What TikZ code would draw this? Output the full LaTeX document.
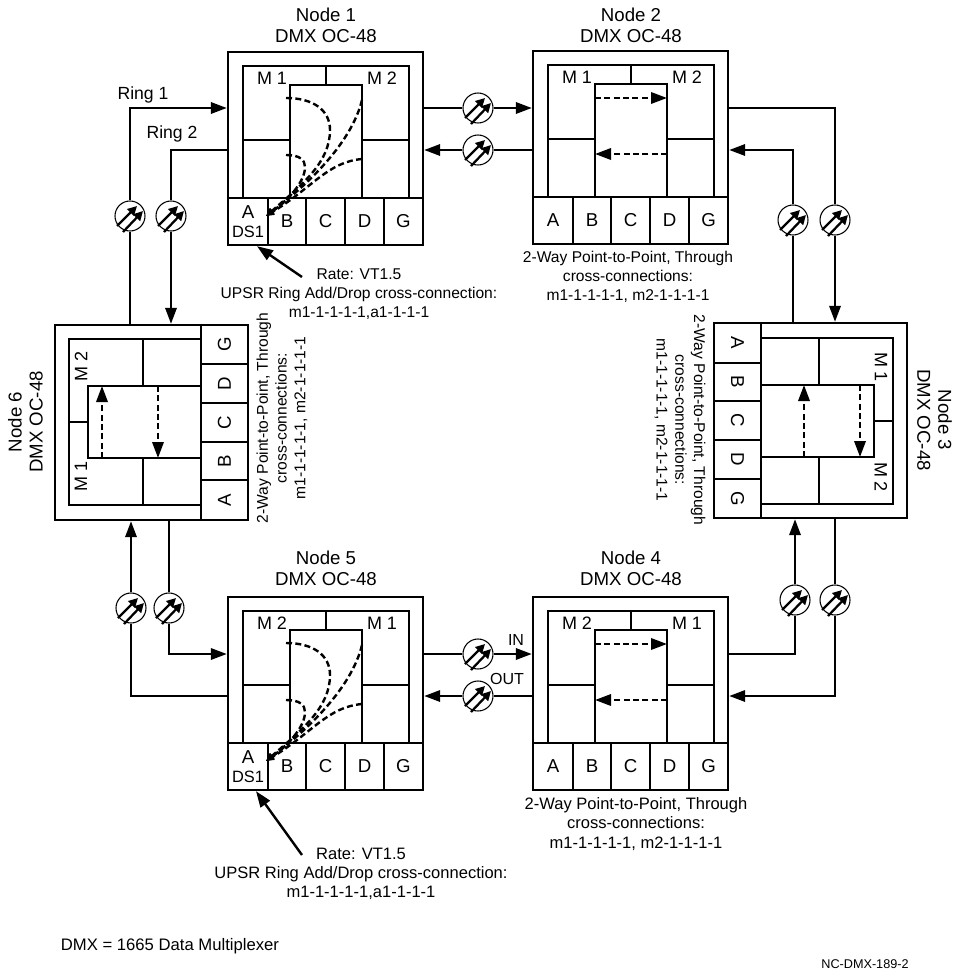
\documentclass[tikz,border=0pt]{standalone}
\usepackage{fontspec}
\setmainfont{Liberation Sans}
\usetikzlibrary{arrows.meta, calc, positioning}

\newcommand{\sizedfont}[2]{\fontsize{#1}{#2}\selectfont}
\tikzset{
  outerbox/.style={draw, line width=1.8pt, inner sep=0pt, minimum width=146.25pt, minimum height=144.75pt},
  part/.style={line width=1.8pt},
  card/.style={draw, line width=1.8pt, inner sep=0pt, minimum height=35.25pt, align=center, font=\sizedfont{14}{14.5}},
  mlabel/.style={inner sep=0pt, font=\sizedfont{13.5}{15}},
  title/.style={inner sep=0pt, align=center, font=\sizedfont{14}{15.75}},
  note/.style={inner sep=0pt, align=center, font=\sizedfont{11.7}{14}},
  bignote/.style={inner sep=0pt, align=center, font=\sizedfont{12.4}{14.4}},
  ringlabel/.style={inner sep=0pt, font=\sizedfont{13.2}{15}},
  portlabel/.style={inner sep=0pt, font=\sizedfont{12}{14}},
  filter/.style={draw, circle, fill=white, line width=0.8pt, inner sep=0pt, minimum size=22.5pt},
  filterarrow/.style={line width=1.7pt, -{Triangle[length=7pt,width=7pt]}},
  ring/.style={line width=1.8pt},
  ringarrow/.style={line width=1.8pt, -{Triangle[length=12pt,width=8.5pt]}},
  xconn/.style={line width=1.8pt, dash pattern=on 4.5pt off 2.5pt, -{Triangle[length=12pt,width=8.5pt]}},
  dropconn/.style={line width=1.8pt, dash pattern=on 4.5pt off 2.5pt, -{Triangle[length=6pt,width=5pt]}},
}

\newcommand{\throughxc}[1]{
  \coordinate (#1pa) at (62,47);
  \coordinate (#1pb) at (134,47);
  \coordinate (#1pc) at (62,103);
  \coordinate (#1pd) at (134,103);
  \draw[xconn] (#1pa) -- (#1pb);
  \draw[xconn] (#1pd) -- (#1pc);
}
\newcommand{\adddropxc}[1]{
  \coordinate (#1tip) at (38,164);
  \coordinate (#1ua) at (58,46);
  \coordinate (#1ub) at (58,103);
  \coordinate (#1uc) at (134,48);
  \coordinate (#1ud) at (134,107);
  \draw[dropconn] (#1ua) .. controls (85,46) and (102,58) .. (102,78) .. controls (102,110) and (75,132) .. (#1tip);
  \draw[dropconn] (#1ub) .. controls (72,103) and (77,108) .. (77,115) .. controls (77,130) and (60,148) .. (#1tip);
  \draw[dropconn] (#1uc) .. controls (125,85) and (90,125) .. (#1tip);
  \draw[dropconn] (#1ud) .. controls (100,110) and (85,135) .. (#1tip);
}
% name, x, y, angle, left label, right label, text of card A, cross-connection
\newcommand{\dmxnode}[8]{
  \begin{scope}[shift={(#2,#3)}, rotate=#4, transform shape]
    \node[outerbox] (#1) at (97.5,96.5) {};
    \draw[part] (15,146) |- (181,14) -- (181,146);
    \draw[part] (62,146) |- (134,33) -- (134,146);
    \draw[part] (98,14) -- (98,33);
    \draw[part] (15,88) -- (62,88);
    \draw[part] (134,88) -- (181,88);
    \node[mlabel] (#1ml) at (44,26) {#5};
    \node[mlabel] (#1mr) at (154,26) {#6};
    \node[card, minimum width=30pt] (#1A) at (20,169.5) {#7};
    \foreach \lett/\xmid/\wid in {B/59/38, C/97.5/39, D/136.5/39, G/175.5/39}{
      \node[card, minimum width=\wid*0.75pt] (#1\lett) at (\xmid,169.5) {\lett};
    };
    #8{#1}
  \end{scope}
}

\begin{document}
\begin{tikzpicture}[x=0.75pt, y=-0.75pt]
    \useasboundingbox (0,0) rectangle (961,977);

    \dmxnode{n1}{228}{52}{0}{M 1}{M 2}{A\\\sizedfont{12.3}{14.5}DS1}{\adddropxc}
    \dmxnode{n2}{533}{51}{0}{M 1}{M 2}{A}{\throughxc}
    \dmxnode{n3}{907}{323}{-90}{M 1}{M 2}{A}{\throughxc}
    \dmxnode{n4}{533}{597}{0}{M 2}{M 1}{A}{\throughxc}
    \dmxnode{n5}{228}{597}{0}{M 2}{M 1}{A\\\sizedfont{12.3}{14.5}DS1}{\adddropxc}
    \dmxnode{n6}{55}{520}{90}{M 1}{M 2}{A}{\throughxc}

    \foreach \name/\xpos/\ypos in {f12a/478/108, f12b/478/150, f23a/793/220, f23b/835/220,
      f34a/795/600, f34b/835/600, f45a/478/654, f45b/478/696,
      f56a/131/608, f56b/169/608, f61a/130/216, f61b/171/216}{
      \node[filter] (\name) at (\xpos,\ypos) {};
      \draw[filterarrow] ([shift={(-13,10)}]\name.center) -- ([shift={(7,-10)}]\name.center);
      \draw[filterarrow] ([shift={(-7,16)}]\name.center) -- ([shift={(13,-5)}]\name.center);
    };

    \draw[ring] (n1.east |- f12a) -- (f12a);
    \draw[ringarrow] (f12a) -- (f12a -| n2.west);
    \draw[ring] (n2.west |- f12b) -- (f12b);
    \draw[ringarrow] (f12b) -- (f12b -| n1.east);

    \draw[ring] (n2.east |- f12a) -| (f23b);
    \draw[ringarrow] (f23b) -- (f23b |- n3.west);
    \draw[ring] (f23a |- n3.west) -- (f23a);
    \draw[ringarrow] (f23a) |- (n2.east |- f12b);

    \draw[ring] (n4.east |- f45a) -| (f34a);
    \draw[ringarrow] (f34a) -- (f34a |- n3.east);
    \draw[ring] (f34b |- n3.east) -- (f34b);
    \draw[ringarrow] (f34b) |- (n4.east |- f45b);

    \draw[ring] (n5.east |- f45a) -- (f45a);
    \draw[ringarrow] (f45a) -- (f45a -| n4.west);
    \draw[ring] (n4.west |- f45b) -- (f45b);
    \draw[ringarrow] (f45b) -- (f45b -| n5.east);

    \draw[ring] (n5.west |- f45b) -| (f56a);
    \draw[ringarrow] (f56a) -- (f56a |- n6.west);
    \draw[ring] (f56b |- n6.west) -- (f56b);
    \draw[ringarrow] (f56b) |- (n5.west |- f45a);

    \draw[ring] (f61a |- n6.east) -- (f61a);
    \draw[ringarrow] (f61a) |- (n1.west |- f12a);
    \draw[ring] (n1.west |- f12b) -| (f61b);
    \draw[ringarrow] (f61b) -- (f61b |- n6.east);

    \node[title] (t1) at (326,25.5) {Node 1\\DMX OC-48};
    \node[title] (t2) at (631,25.5) {Node 2\\DMX OC-48};
    \node[title, rotate=-90] (t3) at (934.5,420) {Node 3\\DMX OC-48};
    \node[title] (t4) at (631,568.5) {Node 4\\DMX OC-48};
    \node[title] (t5) at (326,568.5) {Node 5\\DMX OC-48};
    \node[title, rotate=90] (t6) at (25.5,422) {Node 6\\DMX OC-48};

    \node[ringlabel] (ring1) at (143,95) {Ring 1};
    \node[ringlabel] (ring2) at (172,134) {Ring 2};
    \node[portlabel] (in) at (516,640) {IN};
    \node[portlabel] (out) at (507,679) {OUT};

    \node[note] (a1) at (359,294) {Rate: VT1.5\\UPSR Ring Add/Drop cross-connection:\\m1-1-1-1-1,a1-1-1-1};
    \node[note] (a2) at (628,277) {2-Way Point-to-Point, Through\\cross-connections:\\m1-1-1-1-1, m2-1-1-1-1};
    \node[note, rotate=-90] (a3) at (680,420) {2-Way Point-to-Point, Through\\cross-connections:\\m1-1-1-1-1, m2-1-1-1-1};
    \node[bignote] (a4) at (636,824) {2-Way Point-to-Point, Through\\cross-connections:\\m1-1-1-1-1, m2-1-1-1-1};
    \node[bignote] (a5) at (361,874) {Rate: VT1.5\\UPSR Ring Add/Drop cross-connection:\\m1-1-1-1-1,a1-1-1-1};
    \node[note, rotate=90] (a6) at (282,418) {2-Way Point-to-Point, Through\\cross-connections:\\m1-1-1-1-1, m2-1-1-1-1};

    \coordinate (rate1) at (302,277);
    \coordinate (rate5) at (302,855);
    \draw[ringarrow] (rate1) -- ([xshift=6.75pt]n1A.south);
    \draw[ringarrow] (rate5) -- ([xshift=6pt]n5A.south);

    \node[portlabel, font=\sizedfont{12.5}{14}] (dmxnote) at (170,946) {DMX = 1665 Data Multiplexer};
    \node[portlabel, font=\sizedfont{9.5}{12}] (figid) at (865,964) {NC-DMX-189-2};
\end{tikzpicture}
\end{document}
